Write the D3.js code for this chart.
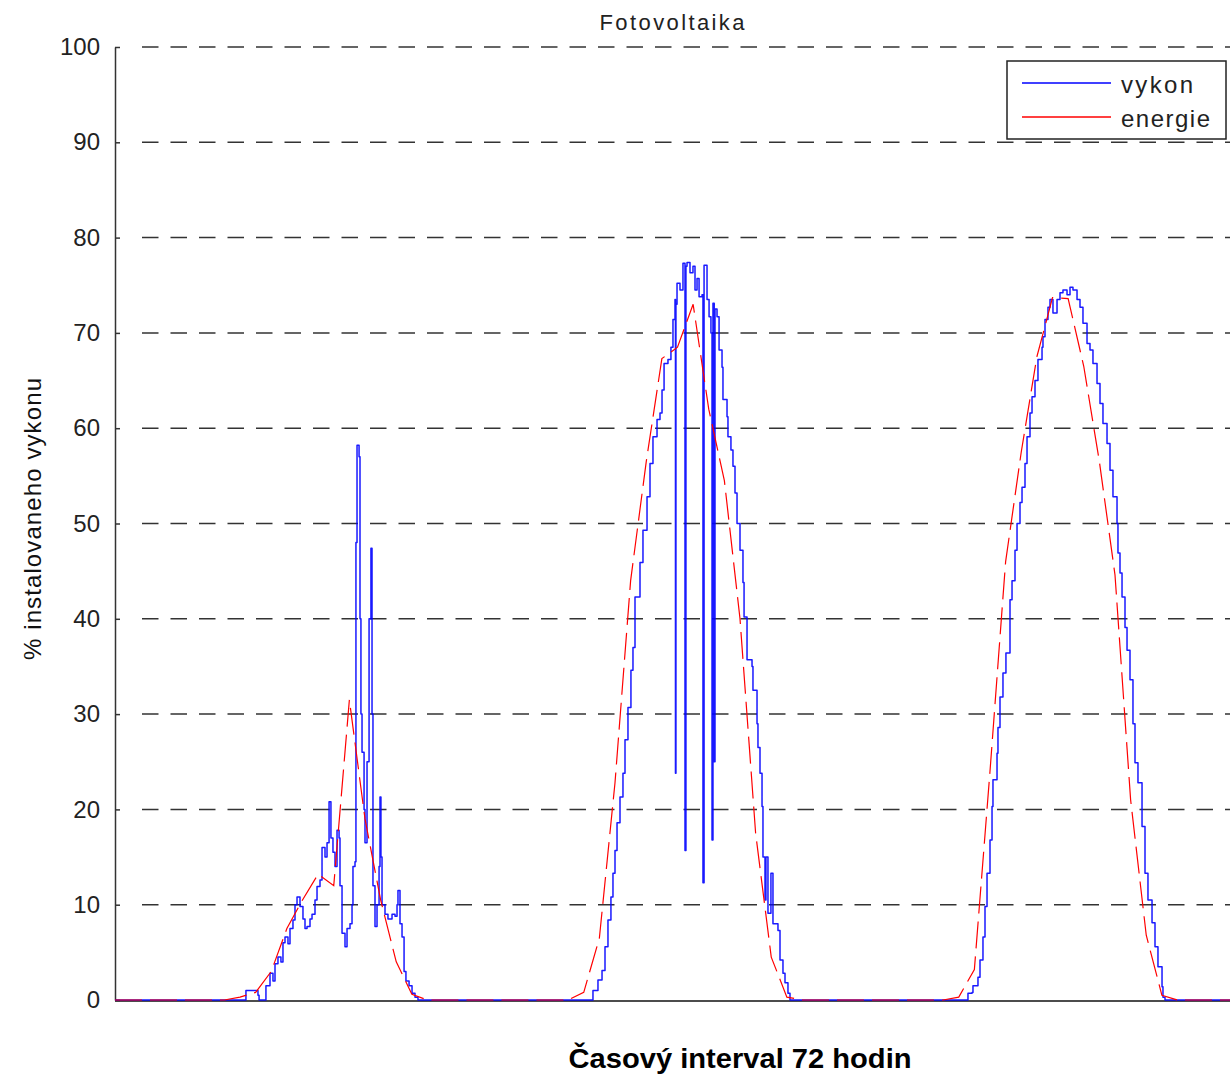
<!DOCTYPE html>
<html>
<head>
<meta charset="utf-8">
<script src="https://cdn.jsdelivr.net/npm/d3@7/dist/d3.min.js"></script>
<style>
  body { margin: 0; background: #fff; }
</style>
</head>
<body>
<div id="chart"></div>
<script>
// vykon - [hodina, % instalovaneho vykonu], po dnech
var vykonDen1 = [[0,0],[8.32,0],[8.38,1.0],[9.02,1.0],[9.15,0.5],[9.22,0],[9.54,0],[9.66,1.5],[9.92,2.8],[10.11,2.0],[10.24,3.8],[10.43,4.5],[10.62,4.0],[10.75,6.0],[10.88,6.6],[11.07,5.9],[11.2,7.5],[11.39,8.4],[11.52,10.0],[11.65,10.8],[11.84,9.8],[12.03,8.5],[12.16,7.5],[12.29,7.7],[12.48,8.5],[12.61,9.0],[12.8,10.5],[12.93,11.9],[13.12,12.6],[13.25,16.0],[13.44,15.0],[13.57,16.5],[13.7,20.8],[13.82,17.0],[13.95,15.5],[14.08,14.0],[14.21,17.8],[14.34,17.0],[14.4,12.0],[14.53,7.0],[14.72,5.6],[14.85,7.5],[15.04,8.0],[15.17,10.0],[15.23,14.0],[15.36,14.5],[15.42,48.0],[15.49,58.2],[15.62,57.0],[15.68,40.0],[15.74,30.0],[15.81,26.0],[15.94,20.0],[16.0,16.5],[16.13,25.0],[16.26,40.0],[16.38,47.4],[16.45,30.0],[16.51,12.0],[16.64,7.7],[16.77,10.0],[16.9,14.0],[16.96,21.3],[17.02,15.0],[17.09,10.0],[17.28,9.0],[17.47,8.5],[17.73,9.0],[17.92,8.8],[18.05,10.0],[18.11,11.5],[18.24,8.0],[18.37,6.6],[18.5,3.0],[18.62,2.0],[18.82,1.5],[19.01,0.7],[19.2,0.3],[19.39,0]];
var vykonDen2 = [[30.53,0],[30.59,1.0],[30.91,2.1],[31.17,3.1],[31.36,5.6],[31.55,8.4],[31.74,10.8],[31.87,13.3],[32.0,15.7],[32.13,18.6],[32.32,21.3],[32.51,23.8],[32.64,27.3],[32.83,30.7],[33.02,34.6],[33.15,37.0],[33.28,42.3],[33.6,45.9],[33.79,49.3],[34.05,52.8],[34.24,56.3],[34.43,59.1],[34.69,60.9],[34.88,61.6],[35.01,64.0],[35.14,66.8],[35.39,67.2],[35.58,68.5],[35.71,71.4],[35.84,73.5],[35.87,23.8],[35.9,73.0],[35.97,75.2],[36.16,74.5],[36.35,77.3],[36.48,15.7],[36.54,77.0],[36.61,77.4],[36.8,76.3],[36.99,77.0],[37.12,74.5],[37.25,75.7],[37.38,73.8],[37.57,74.0],[37.63,12.3],[37.7,77.1],[37.89,73.5],[38.02,71.7],[38.14,70.0],[38.21,16.8],[38.27,73.1],[38.35,25.0],[38.4,72.5],[38.53,71.7],[38.66,68.2],[38.85,66.4],[38.91,63.0],[39.17,61.2],[39.23,59.1],[39.42,57.7],[39.55,56.0],[39.68,53.2],[39.81,50.0],[40.0,47.2],[40.19,43.8],[40.26,40.2],[40.45,35.7],[40.77,35.0],[40.83,32.5],[41.09,29.0],[41.15,26.5],[41.28,23.8],[41.41,20.3],[41.47,15.0],[41.6,10.5],[41.66,15.0],[41.79,9.1],[41.98,13.3],[42.11,8.0],[42.37,8.0],[42.43,7.3],[42.56,4.2],[42.75,2.8],[42.88,1.8],[43.07,0.7],[43.2,0]];
var vykonDen3 = [[54.53,0],[54.59,0.7],[54.85,0.8],[54.91,1.5],[55.23,2.4],[55.36,4.2],[55.55,6.6],[55.68,9.8],[55.81,13.3],[56.0,16.8],[56.13,20.3],[56.19,23.1],[56.45,25.9],[56.51,28.6],[56.64,31.8],[56.83,34.3],[57.02,36.4],[57.28,42.0],[57.41,44.0],[57.6,47.2],[57.73,50.0],[57.92,52.2],[58.05,53.8],[58.24,56.3],[58.37,59.1],[58.56,61.6],[58.69,63.3],[58.88,65.0],[59.07,67.2],[59.33,68.5],[59.39,69.6],[59.52,71.4],[59.71,72.7],[59.84,73.5],[60.03,72.1],[60.29,73.5],[60.48,74.2],[60.67,74.5],[60.93,74.0],[61.12,74.8],[61.31,74.5],[61.57,73.5],[61.76,72.7],[61.95,71.0],[62.21,68.9],[62.4,68.2],[62.59,66.8],[62.85,64.7],[63.04,62.6],[63.23,60.5],[63.49,58.4],[63.68,55.6],[63.87,52.8],[64.13,50.0],[64.19,46.9],[64.32,44.8],[64.45,42.3],[64.64,39.1],[64.77,36.7],[64.96,33.6],[65.15,29.0],[65.28,24.9],[65.47,22.8],[65.73,18.2],[65.92,13.3],[66.11,10.5],[66.37,8.1],[66.56,5.6],[66.75,3.5],[67.01,1.4],[67.07,0.3],[67.2,0],[72,0]];

// energie - hodinove hodnoty, index = hodina 0..72
var energie = [0,0,0,0,0,0,0,0, 0.3,0.8,3.0,7.5,10.5,13.2,12.0,31.5,19.0,10.5,4.0,0.6,
  0,0,0,0,0,0,0,0,0,0, 0.8,6.5,22.8,44.0,56.5,67.3,68.5,73.0,62.0,54.5,40.0,17.5,4.5,0.3,
  0,0,0,0,0,0,0,0,0,0, 0.3,3.2,24.0,46.0,57.5,67.5,73.7,73.6,66.5,56.5,44.6,21.0,6.8,0.5,
  0,0,0,0,0];

var yTicks = [0,10,20,30,40,50,60,70,80,90,100];
var nazvy = ["vykon", "energie"];
var barvy = ["#0000ff", "#ff0000"];

var width = 1230, height = 1077;
var plotLeft = 115, plotRight = 1240, plotTop = 47, plotBottom = 1000;

var svg = d3.select("#chart").append("svg")
    .attr("width", width)
    .attr("height", height)
    .style("font-family", "'Liberation Sans', Arial, sans-serif");

var x = d3.scaleLinear().domain([0, 72]).range([plotLeft, plotRight]);
var y = d3.scaleLinear().domain([0, 100]).range([plotBottom, plotTop]);

// mrizka
svg.append("g").selectAll("line")
    .data(yTicks.filter(function(d) { return d > 0; }))
    .enter().append("line")
    .attr("x1", plotLeft + 27).attr("x2", plotRight)
    .attr("y1", function(d) { return y(d); })
    .attr("y2", function(d) { return y(d); })
    .attr("stroke", "#333")
    .attr("stroke-width", 1.5)
    .attr("stroke-dasharray", "16.5,12");

// osa x
svg.append("line")
    .attr("x1", plotLeft).attr("x2", plotRight)
    .attr("y1", plotBottom + 1).attr("y2", plotBottom + 1)
    .attr("stroke", "#111").attr("stroke-width", 1.5);

// osa y
var yAxis = d3.axisLeft(y).tickValues(yTicks).tickSize(-5).tickSizeOuter(0).tickPadding(15);
var gy = svg.append("g").attr("transform", "translate(" + plotLeft + ",0)").call(yAxis);
gy.select(".domain").attr("stroke", "#333").attr("stroke-width", 1.5);
gy.selectAll(".tick line").attr("stroke", "#333").attr("stroke-width", 1.5);
gy.selectAll(".tick text")
    .attr("font-size", 24)
    .attr("fill", "#222")
    .style("font-family", "'Liberation Sans', Arial, sans-serif");

// krivky
var vykon = vykonDen1.concat(vykonDen2, vykonDen3);
var lineVykon = d3.line()
    .x(function(d) { return x(d[0]); })
    .y(function(d) { return y(d[1]); })
    .curve(d3.curveStepAfter);
var lineEnergie = d3.line()
    .x(function(d, i) { return x(i); })
    .y(function(d) { return y(d); });

svg.append("path")
    .datum(vykon)
    .attr("d", lineVykon)
    .attr("fill", "none")
    .attr("stroke", barvy[0])
    .attr("stroke-width", 1.5)
    .attr("stroke-opacity", 0.9)
    .attr("stroke-linejoin", "round");

svg.append("path")
    .datum(energie)
    .attr("d", lineEnergie)
    .attr("fill", "none")
    .attr("stroke", barvy[1])
    .attr("stroke-width", 1.2)
    .attr("stroke-dasharray", "27,8");

// legenda
var legend = svg.append("g");
legend.append("rect")
    .attr("x", 1007).attr("y", 61)
    .attr("width", 219).attr("height", 78)
    .attr("fill", "#fff")
    .attr("stroke", "#222")
    .attr("stroke-width", 1.5);
var item = legend.selectAll(".item")
    .data(nazvy)
    .enter().append("g")
    .attr("transform", function(d, i) { return "translate(0," + (83 + i * 34) + ")"; });
item.append("line")
    .attr("x1", 1022).attr("x2", 1111)
    .attr("stroke", function(d, i) { return barvy[i]; })
    .attr("stroke-width", 1.5);
item.append("text")
    .attr("x", 1121).attr("y", 10)
    .attr("font-size", 24)
    .attr("fill", "#222")
    .attr("textLength", function(d, i) { return i == 0 ? 72 : 89; })
    .attr("lengthAdjust", "spacing")
    .text(function(d) { return d; });

// popisky
svg.append("text")
    .attr("x", 672).attr("y", 30)
    .attr("text-anchor", "middle")
    .attr("font-size", 22)
    .attr("fill", "#222")
    .attr("textLength", 145)
    .attr("lengthAdjust", "spacing")
    .text("Fotovoltaika");

svg.append("text")
    .attr("transform", "translate(41,519) rotate(-90)")
    .attr("text-anchor", "middle")
    .attr("font-size", 24)
    .attr("fill", "#111")
    .attr("textLength", 282)
    .attr("lengthAdjust", "spacing")
    .text("% instalovaneho vykonu");

svg.append("text")
    .attr("x", 740).attr("y", 1068)
    .attr("text-anchor", "middle")
    .attr("font-size", 28)
    .attr("font-weight", "bold")
    .attr("fill", "#000")
    .attr("textLength", 343)
    .attr("lengthAdjust", "spacingAndGlyphs")
    .text("Časový interval 72 hodin");
</script>
</body>
</html>
